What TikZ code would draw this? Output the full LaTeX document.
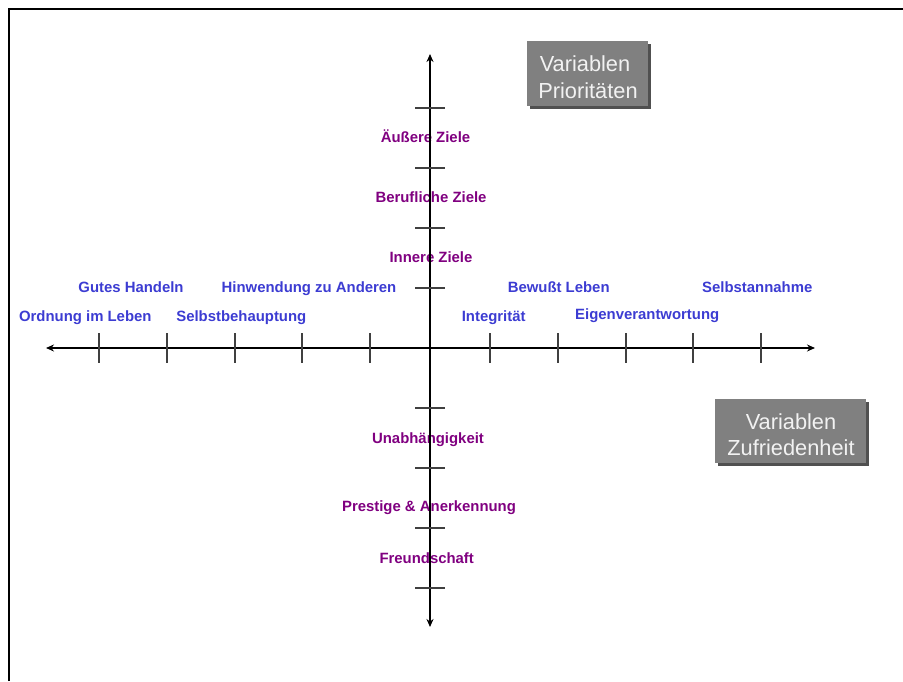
\documentclass[tikz,border=0pt]{standalone}
\usepackage{fontspec}
\setmainfont{Liberation Sans}
\usetikzlibrary{arrows.meta}
\definecolor{lblpurple}{RGB}{128,0,128}
\definecolor{lblblue}{RGB}{60,60,210}
\definecolor{boxgray}{RGB}{128,128,128}
\definecolor{boxshadow}{RGB}{80,80,80}
\definecolor{boxtext}{RGB}{242,242,242}
\begin{document}
\begin{tikzpicture}[x=1pt,y=-1pt,
  axisline/.style={line width=2pt, {Stealth[length=8pt,width=7pt]}-{Stealth[length=8pt,width=7pt]}},
  tickmark/.style={line width=1.3pt, black!75},
  plbl/.style={text=lblpurple, font=\bfseries\fontsize{14.9}{16}\selectfont, inner sep=0pt, anchor=base},
  blbl/.style={text=lblblue, font=\bfseries\fontsize{14.9}{16}\selectfont, inner sep=0pt, anchor=base},
  varbox/.style={fill=boxgray, inner sep=0pt},
  boxtxt/.style={text=boxtext, font=\fontsize{21.8}{26}\selectfont, inner sep=0pt, anchor=base}]
\useasboundingbox (0,0) rectangle (903,681);
% frame
\draw[line width=2.2pt] (9,681) -- (9,9) -- (903,9);
% purple labels (vertical axis)
\node[plbl] (aussen) at (425.5,142.7) {Äußere Ziele};
\node[plbl] (beruf) at (431,202.5) {Berufliche Ziele};
\node[plbl] (innen) at (431,262.5) {Innere Ziele};
\node[plbl] (unab) at (428,443) {Unabhängigkeit};
\node[plbl] (prest) at (429,511.5) {Prestige \& Anerkennung};
\node[plbl] (freund) at (426.7,563) {Freundschaft};
% blue labels (horizontal axis)
\node[blbl] (gutes) at (131,292.3) {Gutes Handeln};
\node[blbl] (hinw) at (309,292.3) {Hinwendung zu Anderen};
\node[blbl] (ordn) at (85.3,321.5) {Ordnung im Leben};
\node[blbl] (selbstb) at (241.3,321.5) {Selbstbehauptung};
\node[blbl] (bewusst) at (558.7,292.3) {Bewußt Leben};
\node[blbl] (selbstan) at (757.3,292.3) {Selbstannahme};
\node[blbl] (integ) at (493.7,321.3) {Integrität};
\node[blbl] (eigen) at (647.2,319.8) {Eigenverantwortung};
% axes
\coordinate (xl) at (46,348);
\coordinate (xr) at (815,348);
\coordinate (yt) at (430,54);
\coordinate (yb) at (430,627);
\draw[axisline] (xl) -- (xr);
\draw[axisline] (yb) -- (yt);
% ticks
\foreach \x in {99,167,235,302,370,490,558,626,693,761}
  \draw[tickmark] (\x,333) -- (\x,363);
\foreach \y in {108,168,228,288,408,468,528,588}
  \draw[tickmark] (415,\y) -- (445,\y);
% box: Variablen Prioritaeten
\fill[boxshadow] (530,44) rectangle (651,109);
\node[varbox, minimum width=121pt, minimum height=65pt] (prio) at (587.5,73.5) {};
\node[boxtxt] (prio1) at (585,71) {Variablen};
\node[boxtxt] (prio2) at (588,98.5) {Prioritäten};
% box: Variablen Zufriedenheit
\fill[boxshadow] (718,402) rectangle (869,466);
\node[varbox, minimum width=151pt, minimum height=64pt] (zuf) at (790.5,431) {};
\node[boxtxt] (zuf1) at (791,429) {Variablen};
\node[boxtxt] (zuf2) at (791,455.6) {Zufriedenheit};
\end{tikzpicture}
\end{document}
